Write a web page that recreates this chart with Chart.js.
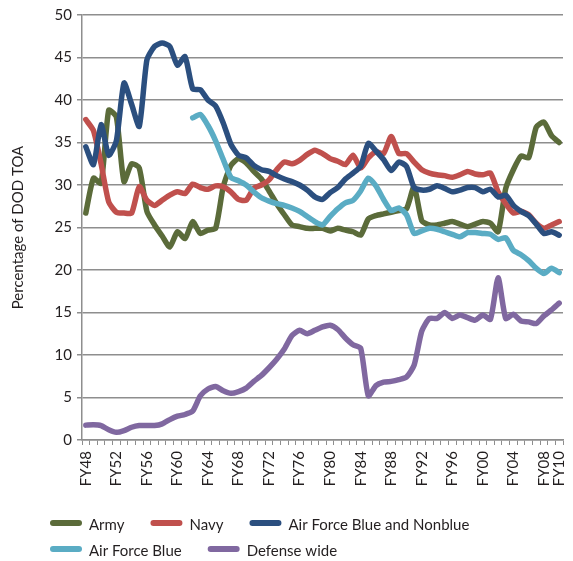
<!DOCTYPE html>
<html>
<head>
<meta charset="utf-8">
<script src="https://cdn.jsdelivr.net/npm/chart.js@4.4.1/dist/chart.umd.min.js"></script>
<style>
html,body{margin:0;padding:0;background:#ffffff;}
#wrap{width:573px;height:561px;}
</style>
</head>
<body>
<div id="wrap"><canvas id="c" width="573" height="561"></canvas></div>
<script>
const categories = ['FY48','FY49','FY50','FY51','FY52','FY53','FY54','FY55','FY56','FY57',
  'FY58','FY59','FY60','FY61','FY62','FY63','FY64','FY65','FY66','FY67',
  'FY68','FY69','FY70','FY71','FY72','FY73','FY74','FY75','FY76','FY77',
  'FY78','FY79','FY80','FY81','FY82','FY83','FY84','FY85','FY86','FY87',
  'FY88','FY89','FY90','FY91','FY92','FY93','FY94','FY95','FY96','FY97',
  'FY98','FY99','FY00','FY01','FY02','FY03','FY04','FY05','FY06','FY07',
  'FY08','FY09','FY10'];

const tickLabels = ['FY48','FY52','FY56','FY60','FY64','FY68','FY72','FY76','FY80',
  'FY84','FY88','FY92','FY96','FY00','FY04','FY08','FY10'];

const yTicks = [0, 5, 10, 15, 20, 25, 30, 35, 40, 45, 50];

const seriesNames = ['Army', 'Navy', 'Air Force Blue and Nonblue', 'Air Force Blue', 'Defense wide'];

const army = [26.7,30.8,30.2,38.8,38.0,30.4,32.5,32.0,26.9,25.3,
  24.0,22.7,24.5,23.7,25.7,24.3,24.7,24.9,29.8,32.3,
  33.1,32.6,31.6,30.7,29.3,27.8,26.5,25.3,25.1,24.9,
  24.9,24.9,24.6,24.9,24.7,24.5,24.1,26.0,26.4,26.6,
  26.8,27.0,27.2,29.8,25.8,25.3,25.3,25.5,25.7,25.4,
  25.1,25.4,25.7,25.5,24.5,29.6,31.8,33.4,33.2,36.8,
  37.4,35.8,35.0];

const navy = [37.7,36.4,32.5,28.0,26.8,26.7,26.7,29.8,28.2,27.6,
  28.2,28.8,29.2,29.0,30.1,29.7,29.5,29.9,29.8,29.2,
  28.3,28.2,29.6,30.0,30.6,31.8,32.7,32.5,32.9,33.6,
  34.1,33.7,33.1,32.8,32.4,33.5,32.0,33.2,33.9,33.7,
  35.7,33.7,33.7,32.7,31.8,31.4,31.2,31.1,30.9,31.2,
  31.6,31.3,31.2,31.4,29.2,27.8,26.7,26.9,26.5,25.5,
  24.9,25.3,25.7];

const airForceBlueNonblue = [34.5,32.4,37.1,33.5,35.2,42.0,39.5,36.9,44.7,46.3,
  46.7,46.3,44.1,45.1,41.3,41.2,40.0,39.3,37.3,34.8,
  33.5,33.2,32.3,31.8,31.6,31.1,30.7,30.4,30.0,29.4,
  28.6,28.3,29.1,29.7,30.7,31.4,32.2,34.9,34.0,33.0,
  31.7,32.7,32.2,29.7,29.4,29.5,29.9,29.6,29.2,29.4,
  29.7,29.7,29.2,29.5,28.6,28.8,27.6,26.9,26.4,25.4,
  24.3,24.5,24.1];

const airForceBlue = [null,null,null,null,null,null,null,null,null,null,
  null,null,null,null,37.9,38.3,37.0,35.2,33.0,30.9,
  30.5,30.0,29.2,28.5,28.1,27.8,27.6,27.3,26.9,26.3,
  25.7,25.3,26.3,27.2,27.9,28.2,29.3,30.8,29.9,28.3,
  27.0,27.3,26.5,24.3,24.6,24.9,24.8,24.5,24.2,23.9,
  24.4,24.4,24.3,24.2,23.6,23.8,22.3,21.8,21.1,20.2,
  19.6,20.2,19.7];

const defenseWide = [1.75,1.8,1.7,1.2,0.9,1.1,1.5,1.7,1.7,1.7,
  1.9,2.4,2.8,3.0,3.4,5.2,6.0,6.3,5.8,5.5,
  5.7,6.1,6.9,7.6,8.5,9.5,10.7,12.3,12.9,12.5,
  12.9,13.3,13.5,13.0,12.0,11.2,10.8,5.2,6.4,6.8,
  6.9,7.1,7.4,8.8,12.8,14.3,14.3,15.0,14.3,14.7,
  14.4,14.1,14.7,14.2,19.1,14.3,14.8,14.0,13.9,13.7,
  14.6,15.3,16.1];

const seriesValues = [army, navy, airForceBlueNonblue, airForceBlue, defenseWide];
const seriesColors = ['#5b6b3a', '#c0504d', '#2b4f7f', '#5aacc4', '#8068a0'];

const FONT = 'Lato, "Noto Sans", sans-serif';
const TEXT = '#231f20';
const GRID = '#8e8e8e';

const datasets = seriesNames.map((name, i) => ({
  label: name,
  data: seriesValues[i],
  borderColor: seriesColors[i],
  backgroundColor: seriesColors[i],
  borderWidth: 5.5,
  borderCapStyle: 'round',
  borderJoinStyle: 'round',
  pointRadius: 0,
  pointHoverRadius: 0,
  tension: 0.2,
  fill: false,
  spanGaps: false,
  order: seriesNames.length - i
}));

// Legend drawn in two rows under the axis, left aligned
const legendRows = [[0, 1, 2], [3, 4]];
const customLegend = {
  id: 'customLegend',
  afterDraw(chart) {
    const ctx = chart.ctx;
    const area = chart.chartArea;
    const startX = area.left - 32;
    const rowY = [area.bottom + 84, area.bottom + 110];
    ctx.save();
    ctx.font = '15px ' + FONT;
    ctx.textBaseline = 'middle';
    ctx.textAlign = 'left';
    legendRows.forEach((row, r) => {
      let x = startX;
      const y = rowY[r];
      row.forEach(di => {
        const ds = chart.data.datasets[di];
        ctx.strokeStyle = ds.borderColor;
        ctx.lineWidth = 6;
        ctx.lineCap = 'round';
        ctx.beginPath();
        ctx.moveTo(x + 3, y - 1);
        ctx.lineTo(x + 29, y - 1);
        ctx.stroke();
        ctx.fillStyle = TEXT;
        const tx = x + 39;
        ctx.fillText(ds.label, tx, y + 1);
        x = tx + ctx.measureText(ds.label).width + 26;
      });
    });
    ctx.restore();
  }
};

new Chart(document.getElementById('c'), {
  type: 'line',
  data: { labels: categories, datasets },
  options: {
    responsive: false,
    animation: false,
    devicePixelRatio: 1,
    layout: { padding: { left: 0, right: 10, top: 15, bottom: 0 } },
    plugins: {
      legend: { display: false },
      tooltip: { enabled: false }
    },
    scales: {
      x: {
        type: 'category',
        offset: true,
        grid: {
          offset: true,
          drawOnChartArea: false,
          drawTicks: true,
          tickLength: 5,
          color: GRID,
          lineWidth: 1
        },
        border: { display: true, color: GRID, width: 1.5 },
        ticks: {
          autoSkip: false,
          maxRotation: 90,
          minRotation: 90,
          padding: 6,
          color: TEXT,
          font: { family: FONT, size: 15 },
          callback: function(value, index) {
            const lab = this.getLabelForValue(value);
            return tickLabels.includes(lab) ? lab : '';
          }
        },
        afterFit(scale) {
          scale.height = 121;
          scale.paddingLeft = 0;
          scale.paddingRight = 0;
        }
      },
      y: {
        min: 0,
        max: 50,
        afterBuildTicks(scale) { scale.ticks = yTicks.map(v => ({ value: v })); },
        grid: {
          drawTicks: true,
          tickLength: 5,
          color: GRID,
          lineWidth: 1.5
        },
        border: { display: true, color: GRID, width: 1.5 },
        ticks: {
          padding: 5,
          color: TEXT,
          font: { family: FONT, size: 15 }
        },
        title: {
          display: true,
          text: 'Percentage of DOD TOA',
          color: TEXT,
          font: { family: FONT, size: 15 },
          padding: { top: 9, bottom: 0 }
        },
        afterFit(scale) {
          scale.width = 82;
          scale.paddingTop = 0;
          scale.paddingBottom = 0;
        }
      }
    }
  },
  plugins: [customLegend]
});
</script>
</body>
</html>
